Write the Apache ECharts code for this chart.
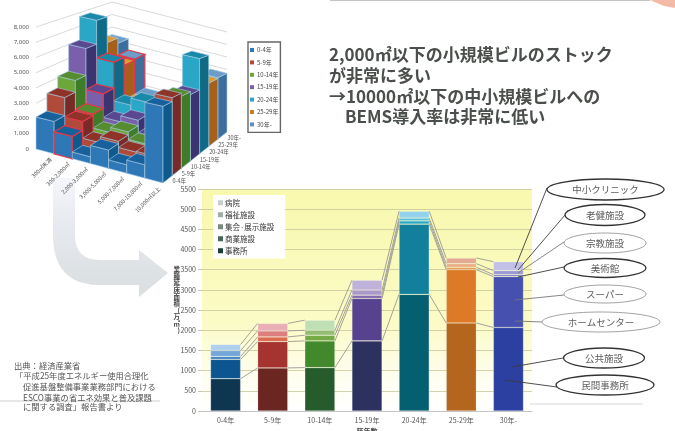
<!DOCTYPE html>
<html lang="ja">
<head>
<meta charset="utf-8">
<title>BEMS</title>
<style>
html,body{margin:0;padding:0;background:#fff}
#chart{width:675px;height:431px}
</style>
<script src="https://cdn.jsdelivr.net/npm/echarts@6/dist/echarts.min.js"></script>
</head>
<body>
<div id="chart"></div>
<script>
// Building stock by floor-area band (across) and building age (depth)
const sizeBands = ['300㎡未満', '300-2,000㎡', '2,000-3,000㎡', '3,000-5,000㎡', '5,000-7,000㎡', '7,000-10,000㎡', '10,000㎡以上'];
const ageBands = ['0-4年', '5-9年', '10-14年', '15-19年', '20-24年', '25-29年', '30年-'];
const stockAge0 = [2100, 1430, 430, 1150, 530, 820, 4650];
const stockAge1 = [3300, 2000, 900, 1300, 900, 950, 4900];
const stockAge2 = [4100, 2100, 1150, 1500, 1000, 900, 4700];
const stockAge3 = [6000, 3100, 1450, 1870, 1000, 1000, 4500];
const stockAge4 = [7730, 5000, 2200, 2700, 1500, 1500, 6700];
const stockAge5 = [5800, 4400, 1800, 1800, 1500, 1500, 4650];
const stockAge6 = [5400, 4500, 1800, 1800, 1500, 1500, 4700];
const stockTicks = [0, 1000, 2000, 3000, 4000, 5000, 6000, 7000, 8000];

// Floor area by use and age
const usageNames = ['事務所', '商業施設', '集会·展示施設', '福祉施設', '病院'];
const officeArea = [800, 1067, 1075, 1737, 2890, 2180, 2070];
const retailArea = [480, 653, 662, 1050, 1740, 1320, 1260];
const assemblyArea = [70, 115, 140, 83, 80, 60, 50];
const welfareArea = [150, 150, 123, 125, 70, 90, 100];
const hospitalArea = [150, 185, 250, 245, 170, 140, 220];

// Callout labels for the oldest column
const calloutNames = ['中小クリニック', '老健施設', '宗教施設', '美術館', 'スーパー', 'ホームセンター', '公共施設', '民間事務所'];

const stockRows = [stockAge0, stockAge1, stockAge2, stockAge3, stockAge4, stockAge5, stockAge6];
const usageRows = [officeArea, retailArea, assemblyArea, welfareArea, hospitalArea];

// Palette: [front, side, top] of the 3D columns per age
const blockColors = [
  ['#2f78b8', '#0f5a8c', '#17609c'],
  ['#b04a3a', '#772a26', '#8f3328'],
  ['#6da63a', '#3f7c2a', '#568c30'],
  ['#7a60aa', '#3c3470', '#5a4890'],
  ['#2aa6c6', '#0e6a86', '#1a88a8'],
  ['#c87c24', '#a6601c', '#e09a30'],
  ['#5c90c2', '#3c6e9e', '#6c9cc8']
];
// Shades of each stacked column, bottom to top
const columnShades = [
  ['#0f3650', '#0c5590', '#3c7fc4', '#74a6dc', '#aed0f0'],
  ['#6c2622', '#a53330', '#dc6a50', '#dd7f7e', '#eaaeb6'],
  ['#265c2c', '#41892a', '#74ab44', '#93bc74', '#bfdfb4'],
  ['#2c3160', '#56428e', '#8468b0', '#a898cc', '#bfb2da'],
  ['#045f70', '#127f9c', '#2aa8c8', '#56c0dc', '#92d2ec'],
  ['#b5661e', '#dd7a28', '#e89a52', '#e8b082', '#e2aa92'],
  ['#2c40a2', '#4650ae', '#7c7cc6', '#9c98d6', '#c2c0e6']
];
const usageKeyColors = ['#1c3c3a', '#46685a', '#7a8a80', '#a0aca8', '#c6ced2'];

// Perspective of the block chart: floor corners and full-scale heights
const floor = { fl: [36, 149], fr: [163, 183], bl: [112, 102], br: [227, 132] };
const wallHeight = { fl: 122, fr: 132, bl: 100, br: 100 };
const scaleMax = stockTicks[stockTicks.length - 1];

function project(u, v, value) {
  const s = u / sizeBands.length;
  const t = v / ageBands.length;
  const mix = (a, b, c, d) => (a * (1 - s) + b * s) * (1 - t) + (c * (1 - s) + d * s) * t;
  const x = mix(floor.fl[0], floor.fr[0], floor.bl[0], floor.br[0]);
  const y = mix(floor.fl[1], floor.fr[1], floor.bl[1], floor.br[1]);
  const h = mix(wallHeight.fl, wallHeight.fr, wallHeight.bl, wallHeight.br);
  return [x, y - (h * value) / scaleMax];
}

function blockRenderer(ageIndex) {
  return function (params, api) {
    const u = api.value(0);
    const value = api.value(1);
    const v = ageIndex;
    const c = blockColors[ageIndex];
    const stroke = u === 1 ? '#e0394a' : '#a9cfe6';
    const lineWidth = u === 1 ? 1.2 : 0.6;
    const a = project(u, v, 0), b = project(u + 1, v, 0);
    const d = project(u + 1, v + 1, 0);
    const at = project(u, v, value), bt = project(u + 1, v, value);
    const ct = project(u, v + 1, value), dt = project(u + 1, v + 1, value);
    const face = (points, fill) => ({
      type: 'polygon',
      shape: { points },
      style: { fill, stroke, lineWidth }
    });
    return {
      type: 'group',
      children: [
        face([a, b, bt, at], c[0]),
        face([b, d, dt, bt], c[1]),
        face([at, bt, dt, ct], c[2])
      ]
    };
  };
}

function wallRenderer(params, api) {
  const value = api.value(0);
  const n = sizeBands.length, m = ageBands.length;
  const p0 = project(0, 0, value), p1 = project(0, m, value), p2 = project(n, m, value);
  return {
    type: 'group',
    children: [
      {
        type: 'polyline',
        shape: { points: [p0, p1, p2] },
        style: { fill: 'none', stroke: '#cfcfcf', lineWidth: 0.8 }
      },
      {
        type: 'text',
        x: p0[0] - 7,
        y: p0[1],
        style: {
          text: value.toLocaleString('en-US'),
          fill: '#555',
          font: '6px "Noto Sans"',
          align: 'right',
          verticalAlign: 'middle'
        }
      }
    ]
  };
}

function sizeLabelRenderer(params, api) {
  const u = api.value(0);
  const p = project(u + 0.75, 0, 0);
  return {
    type: 'text',
    x: p[0] + 1,
    y: p[1] + 6,
    rotation: Math.PI / 4,
    style: {
      text: sizeBands[u],
      fill: '#555',
      font: '5.5px "Noto Sans CJK JP"',
      align: 'right',
      verticalAlign: 'middle'
    }
  };
}

function ageLabelRenderer(params, api) {
  const v = api.value(0);
  const p = project(sizeBands.length, v + 0.5, 0);
  return {
    type: 'text',
    x: p[0] + 5,
    y: p[1] + 2,
    style: {
      text: ageBands[v],
      fill: '#555',
      font: '5.5px "Noto Sans CJK JP"',
      align: 'left',
      verticalAlign: 'middle'
    }
  };
}

// Thin connectors joining each stack level of neighbouring columns
const connectorRows = [];
for (let i = 0; i < ageBands.length - 1; i++) {
  let left = 0, right = 0;
  usageRows.forEach((row) => {
    left += row[i];
    right += row[i + 1];
    connectorRows.push([i, left, right]);
  });
}

function connectorRenderer(params, api) {
  const i = api.value(0);
  const band = api.size([1, 0])[0];
  const half = band * 0.32;
  const a = api.coord([i, api.value(1)]);
  const b = api.coord([i + 1, api.value(2)]);
  return {
    type: 'line',
    shape: { x1: a[0] + half, y1: a[1], x2: b[0] - half, y2: b[1] },
    style: { stroke: '#a3a39a', lineWidth: 1 }
  };
}

const blockSeries = stockRows.map((row, i) => ({
  name: ageBands[i],
  type: 'custom',
  coordinateSystem: 'none',
  renderItem: blockRenderer(i),
  data: row.map((value, u) => [u, value]),
  itemStyle: { color: blockColors[i][0] },
  silent: true,
  z: 3
})).reverse();

const stackSeries = usageNames.map((name, k) => ({
  name,
  type: 'bar',
  stack: 'area',
  barWidth: '64%',
  itemStyle: { color: usageKeyColors[k] },
  data: usageRows[k].map((value, i) => ({
    value,
    itemStyle: { color: columnShades[i][k], borderColor: 'rgba(255,255,255,0.35)', borderWidth: 0.6 }
  })),
  z: 4
}));

// Slide decoration and call-outs
const callouts = [
  { x: 605.5, y: 189.5, rx: 58.5, ry: 10.5, dark: true, from: [547, 188], to: [515, 268] },
  { x: 605, y: 215, rx: 40, ry: 10.5, dark: true, from: [565, 215], to: [518, 270] },
  { x: 605, y: 243, rx: 41, ry: 10, dark: false, from: [564, 242], to: [518, 273] },
  { x: 605, y: 268, rx: 41, ry: 9.5, dark: true, from: [564, 267], to: [518, 277] },
  { x: 605, y: 294, rx: 41, ry: 9, dark: false, from: [564, 295], to: [515, 300] },
  { x: 601, y: 322, rx: 59, ry: 10, dark: false, from: [543, 322], to: [515, 321] },
  { x: 604, y: 358, rx: 40.5, ry: 10, dark: true, from: [563, 358], to: [512, 367] },
  { x: 605, y: 385, rx: 49, ry: 10, dark: true, from: [557, 387], to: [505, 380] }
];

const calloutGraphics = [];
callouts.forEach((c, i) => {
  calloutGraphics.push({
    type: 'line',
    shape: { x1: c.from[0], y1: c.from[1], x2: c.to[0], y2: c.to[1] },
    style: { stroke: c.dark ? '#3c3c3c' : '#777', lineWidth: 0.9 },
    z: 20
  });
  calloutGraphics.push({
    type: 'ellipse',
    shape: { cx: c.x, cy: c.y, rx: c.rx, ry: c.ry },
    style: { fill: '#fff', stroke: c.dark ? '#333' : '#999', lineWidth: c.dark ? 1.3 : 0.9 },
    z: 21
  });
  calloutGraphics.push({
    type: 'text',
    x: c.x,
    y: c.y,
    style: {
      text: calloutNames[i],
      fill: '#5c5c5c',
      font: '9.5px "Noto Sans CJK JP"',
      align: 'center',
      verticalAlign: 'middle'
    },
    z: 22
  });
});

const headlineLines = [
  { text: '2,000㎡以下の小規模ビルのストック', x: 329, y: 55 },
  { text: 'が非常に多い', x: 329, y: 76 },
  { text: '→10000㎡以下の中小規模ビルへの', x: 329, y: 97 },
  { text: 'BEMS導入率は非常に低い', x: 345, y: 117 }
];
const sourceLines = [
  { text: '出典：経済産業省', x: 14, y: 366 },
  { text: '「平成25年度エネルギー使用合理化', x: 15, y: 376 },
  { text: '促進基盤整備事業業務部門における', x: 23, y: 387 },
  { text: 'ESCO事業の省エネ効果と普及課題', x: 23, y: 398 },
  { text: 'に関する調査」報告書より', x: 23, y: 407 }
];

// Quadratic corner samples for the bent arrow outline
function corner(p0, c, p1, steps) {
  const out = [];
  for (let i = 0; i <= steps; i++) {
    const t = i / steps;
    out.push([
      (1 - t) * (1 - t) * p0[0] + 2 * (1 - t) * t * c[0] + t * t * p1[0],
      (1 - t) * (1 - t) * p0[1] + 2 * (1 - t) * t * c[1] + t * t * p1[1]
    ]);
  }
  return out;
}
const arrowOutline = [
  [53, 178],
  ...corner([53, 235], [53, 285], [100, 285], 12),
  [139, 285], [139, 297], [168, 273], [139, 250], [139, 260],
  ...corner([100, 260], [75, 260], [75, 235], 8),
  [75, 178]
];

const decor = [
  {
    type: 'polygon',
    shape: { points: arrowOutline },
    style: {
      fill: {
        type: 'linear', x: 0, y: 0, x2: 0, y2: 1,
        colorStops: [{ offset: 0, color: '#f5f6fb' }, { offset: 0.4, color: '#e6e9ef' }, { offset: 1, color: '#d9dedf' }]
      }
    },
    z: 0
  },
  { type: 'line', shape: { x1: 330, y1: 0.5, x2: 650, y2: 0.5 }, style: { stroke: '#c4c4c4', lineWidth: 1 }, z: 0 },
  { type: 'polygon', shape: { points: [[650, 0], [675, 0], [675, 8], [664, 6]] }, style: { fill: '#f3bba6' }, z: 0 },
  { type: 'line', shape: { x1: 0, y1: 401, x2: 160, y2: 401 }, style: { stroke: '#cfcfcf', lineWidth: 1 }, z: 0 },
  { type: 'line', shape: { x1: 530, y1: 404, x2: 643, y2: 404 }, style: { stroke: '#d8d8d8', lineWidth: 1 }, z: 0 }
];
headlineLines.forEach((l) => decor.push({
  type: 'text', x: l.x, y: l.y,
  style: { text: l.text, fill: '#4b4f4b', font: 'bold 17px "Noto Sans CJK JP"', align: 'left', verticalAlign: 'middle' },
  z: 10
}));
sourceLines.forEach((l) => decor.push({
  type: 'text', x: l.x, y: l.y,
  style: { text: l.text, fill: '#555', font: '8.3px "Noto Sans CJK JP"', align: 'left', verticalAlign: 'middle' },
  z: 10
}));

const chart = echarts.init(document.getElementById('chart'), null, { renderer: 'canvas' });
chart.setOption({
  animation: false,
  backgroundColor: '#fff',
  textStyle: { fontFamily: '"Noto Sans CJK JP"' },
  legend: [
    {
      left: 248, top: 42,
      orient: 'vertical',
      data: ageBands,
      icon: 'rect',
      itemWidth: 4, itemHeight: 4, itemGap: 6.4,
      padding: [5, 2, 5, 2],
      borderColor: '#666', borderWidth: 1.4,
      backgroundColor: '#fff',
      textStyle: { fontSize: 6, color: '#444', padding: [0, 0, 0, -2] }
    },
    {
      left: 213, top: 195,
      orient: 'vertical',
      data: usageNames.slice().reverse(),
      icon: 'rect',
      itemWidth: 5, itemHeight: 5, itemGap: 4.5,
      padding: [4, 11, 4, 5],
      backgroundColor: '#fff',
      itemStyle: { borderWidth: 0 },
      textStyle: { fontSize: 7.5, color: '#333', padding: [0, 0, 0, -3] }
    }
  ],
  grid: {
    left: 202, right: 143, top: 189, bottom: 20,
    outerBoundsMode: 'none',
    show: true,
    borderWidth: 0,
    backgroundColor: {
      type: 'linear', x: 0, y: 0, x2: 0, y2: 1,
      colorStops: [
        { offset: 0, color: '#f8f8ae' },
        { offset: 0.6, color: '#fbfbc6' },
        { offset: 0.85, color: '#fefef0' },
        { offset: 1, color: '#ffffff' }
      ]
    }
  },
  xAxis: {
    type: 'category',
    data: ageBands,
    axisTick: { show: false },
    axisLine: { lineStyle: { color: '#c4c4c4' } },
    axisLabel: { fontSize: 7, color: '#555', margin: 6 },
    name: '築年数',
    nameLocation: 'middle',
    nameGap: 17,
    nameMoveOverlap: false,
    nameTextStyle: { fontSize: 7, color: '#444', fontWeight: 'bold' }
  },
  yAxis: {
    type: 'value',
    min: 0,
    max: 5500,
    interval: 500,
    axisLine: { show: false },
    axisTick: { show: true, length: 4, lineStyle: { color: '#c8c8b0' } },
    axisLabel: { fontSize: 7, color: '#555', margin: 6, formatter: (v) => String(v) },
    splitLine: { lineStyle: { color: '#c6c69c', width: 0.8 } },
    name: '業\n種\n延\n床\n面\n積\n(\n万\n㎡\n)',
    nameLocation: 'middle',
    nameRotate: 0,
    nameGap: 22,
    nameMoveOverlap: false,
    nameTextStyle: { fontSize: 6.5, lineHeight: 6.8, color: '#444', fontWeight: 'bold' }
  },
  series: [
    { type: 'custom', coordinateSystem: 'none', renderItem: wallRenderer, data: stockTicks.map((t) => [t]), silent: true, z: 2 },
    ...blockSeries,
    { type: 'custom', coordinateSystem: 'none', renderItem: sizeLabelRenderer, data: sizeBands.map((_, i) => [i]), silent: true, z: 2 },
    { type: 'custom', coordinateSystem: 'none', renderItem: ageLabelRenderer, data: ageBands.map((_, i) => [i]), silent: true, z: 2 },
    ...stackSeries,
    {
      type: 'custom',
      coordinateSystem: 'cartesian2d',
      renderItem: connectorRenderer,
      encode: { x: 0, y: 1 },
      data: connectorRows,
      silent: true,
      z: 5
    }
  ],
  graphic: { elements: decor.concat(calloutGraphics) }
});
</script>
</body>
</html>
